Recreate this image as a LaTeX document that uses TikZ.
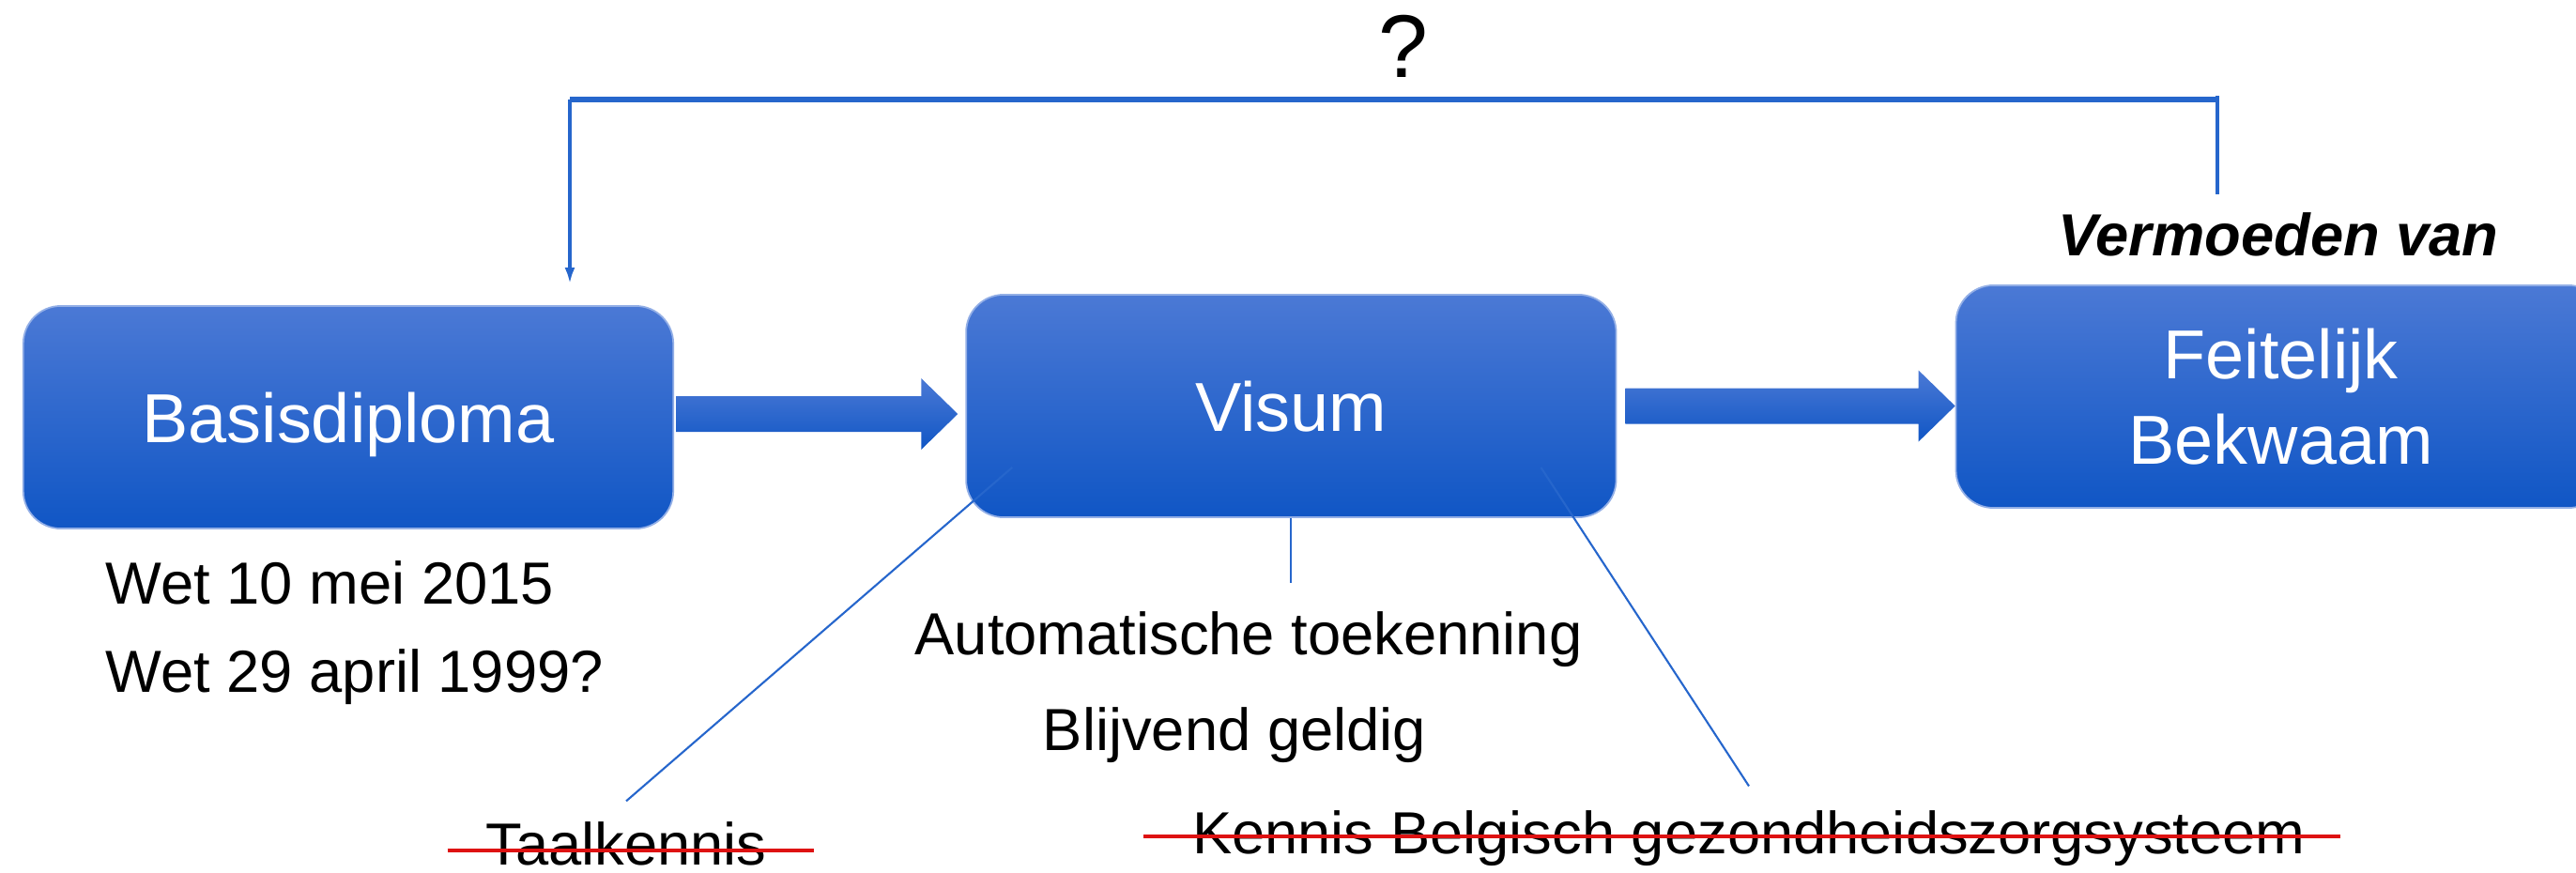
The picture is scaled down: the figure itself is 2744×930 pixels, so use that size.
\documentclass[tikz,border=0pt]{standalone}
\usepackage{fontspec}
\setmainfont{Liberation Sans}
\usetikzlibrary{positioning,calc,arrows.meta}
\definecolor{boxtop}{RGB}{75,121,213}
\definecolor{boxbot}{RGB}{16,86,197}
\definecolor{linkblue}{RGB}{38,102,204}
\definecolor{strikered}{RGB}{222,18,18}
% thick block arrow from #1 (tail) to #2 (tip)
\newcommand{\fatarrow}[2]{%
  \shade[top color=boxtop, bottom color=boxbot]
    ($(#1)+(0,-19)$) -- ($(#2)+(-39,-19)$) -- ($(#2)+(-39,-38)$) -- (#2)
    -- ($(#2)+(-39,38)$) -- ($(#2)+(-39,19)$) -- ($(#1)+(0,19)$) -- cycle;}

\begin{document}
\begin{tikzpicture}[
  x=0.01cm, y=-0.01cm,
  mybox/.style={rectangle, rounded corners=0.4cm, minimum width=6.92cm,
    minimum height=2.37cm, top color=boxtop, bottom color=boxbot,
    draw=boxtop!60!white, line width=0.5pt, text=white, text depth=0pt,
    font=\fontsize{21}{25.9}\selectfont},
  mytext/.style={inner sep=0pt, anchor=base, font=\fontsize{18}{21}\selectfont},
  link/.style={draw=linkblue, line width=0.6pt},
  bar/.style={draw=linkblue, line width=1.7pt},
  strike/.style={draw=strikered, line width=0.9pt},
]
\useasboundingbox (0,0) rectangle (2744,930);

\node[mybox] (basis) at (371,444.5) {Basisdiploma};
\node[mybox, right=3.1cm of basis, yshift=0.12cm] (visum) {Visum};
\node[mybox, right=3.6cm of visum, yshift=0.1cm, align=center] (feit) {Feitelijk\\Bekwaam};

\node[mytext, anchor=base west] (wet1) at (112,643) {Wet 10 mei 2015};
\node[mytext, anchor=base west] (wet2) at (112,737) {Wet 29 april 1999?};
\node[mytext] (auto) at (1330,697) {Automatische toekenning};
\node[mytext] (blij) at (1315,799) {Blijvend geldig};
\node[mytext] (taal) at (667,921) {Taalkennis};
\node[mytext] (kennis) at (1863,909) {Kennis Belgisch gezondheidszorgsysteem};
\node[mytext, font=\fontsize{18}{21}\selectfont\bfseries\itshape] (verm) at (2427,272) {Vermoeden van};
\node[mytext, font=\fontsize{27}{32}\selectfont] (vraag) at (1495,82) {?};

% block arrows
\coordinate (a1s) at ([xshift=0.02cm,yshift=0.035cm]basis.east);
\coordinate (a1e) at ([xshift=-0.08cm,yshift=-0.085cm]visum.west);
\fatarrow{a1s}{a1e}
\coordinate (a2s) at ([xshift=0.09cm]visum.east);
\coordinate (a2e) at ([yshift=-0.1cm]feit.west);
\fatarrow{a2s}{a2e}

% lines under the visum
\draw[link] ([xshift=0.5cm,yshift=0.54cm]visum.south west) -- ([yshift=0.21cm]taal.north);
\draw[link] ([xshift=-0.81cm,yshift=0.54cm]visum.south east) -- ([yshift=0.25cm]kennis.north);
\draw[link] (visum.south) -- ([yshift=-0.69cm]visum.south);

% struck out
\draw[strike] ([xshift=-0.4cm,yshift=0.15cm]taal.base west) -- ([xshift=0.5cm,yshift=0.15cm]taal.base east);
\draw[strike] ([xshift=-0.51cm,yshift=0.18cm]kennis.base west) -- ([xshift=0.36cm,yshift=0.18cm]kennis.base east);

% the way back
\coordinate (barL) at (607,106);
\coordinate (barR) at (2362,106);
\coordinate (vermTop) at (2362,207);
\draw[link, line width=0.9pt] (vermTop) -- ([yshift=0.04cm]barR);
\draw[bar] (barR) -- (barL);
\draw[link, line width=0.9pt, -{Latex[length=0.17cm,width=0.11cm]}] (barL) -- ([yshift=0.23cm]barL |- basis.north);
\end{tikzpicture}
\end{document}
